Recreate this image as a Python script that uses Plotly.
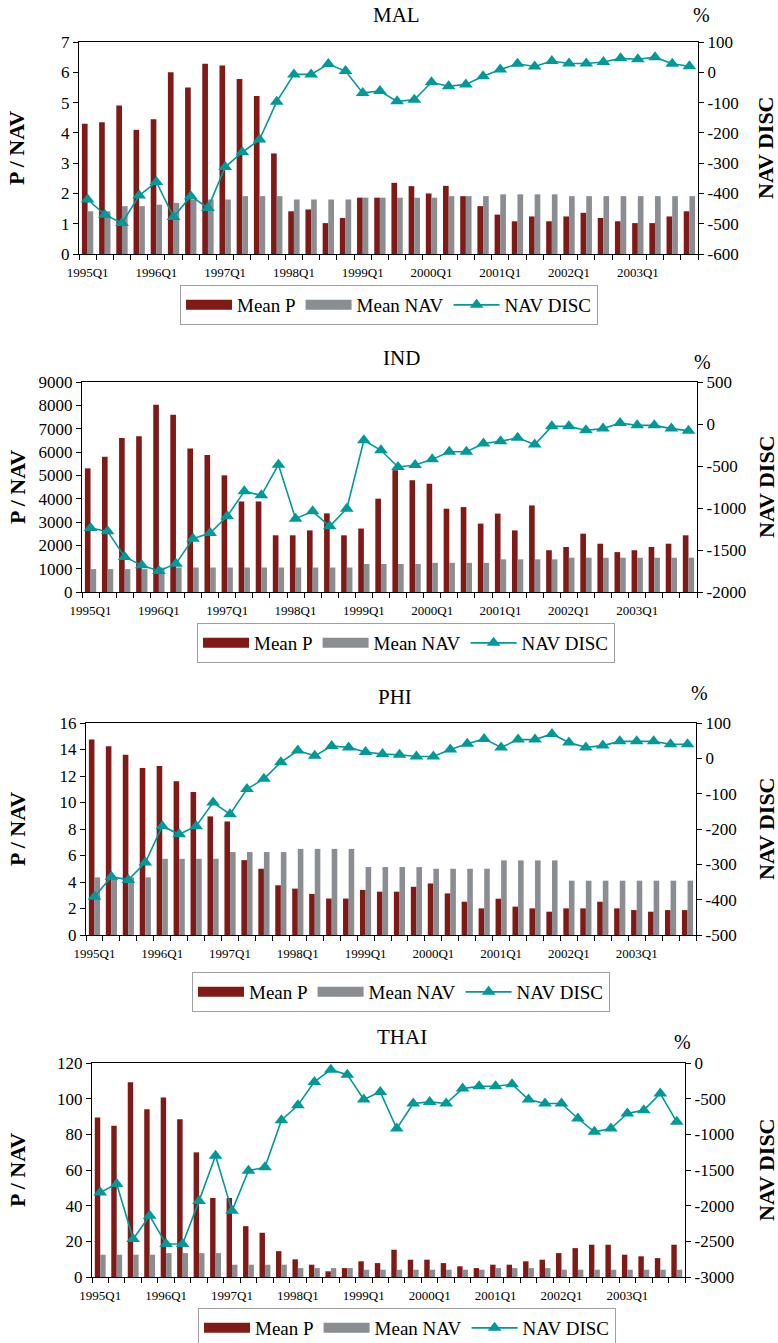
import plotly.graph_objects as go

quarters = [f"{y}Q{q}" for y in range(1995, 2004) for q in range(1, 5)]
tick_labels = ["1995Q1", "1996Q1", "1997Q1", "1998Q1", "1999Q1",
               "2000Q1", "2001Q1", "2002Q1", "2003Q1"]

mal_mean_p = [4.30, 4.35, 4.90, 4.10, 4.45, 6.00, 5.50, 6.28, 6.22, 5.78,
              5.22, 3.32, 1.41, 1.47, 1.02, 1.19, 1.86, 1.86, 2.35, 2.24,
              2.00, 2.25, 1.91, 1.58, 1.30, 1.08, 1.24, 1.08, 1.24, 1.36,
              1.19, 1.08, 1.02, 1.02, 1.24, 1.41]
mal_mean_nav = [1.41, 1.41, 1.58, 1.58, 1.63, 1.69, 1.80, 1.80, 1.80, 1.91,
                1.91, 1.91, 1.80, 1.80, 1.80, 1.80, 1.86, 1.86, 1.86, 1.86,
                1.86, 1.91, 1.91, 1.91, 1.97, 1.97, 1.97, 1.97, 1.91, 1.91,
                1.91, 1.91, 1.91, 1.91, 1.91, 1.91]
mal_nav_disc = [-420, -470, -498, -407, -362, -478, -409, -448, -313, -264,
                -222, -97, -7, -7, 27, 4, -68, -62, -96, -91,
                -33, -46, -40, -13, 9, 28, 19, 37, 29, 29,
                34, 46, 43, 50, 28, 20]

ind_mean_p = [5300, 5800, 6600, 6670, 8030, 7600, 6150, 5870, 5000, 3880,
              3880, 2430, 2430, 2640, 3370, 2430, 2720, 4000, 5220, 4790,
              4640, 3570, 3640, 2930, 3360, 2640, 3710, 1790, 1930, 2500,
              2070, 1710, 1790, 1930, 2070, 2430]
ind_mean_nav = [980, 980, 980, 980, 1050, 1050, 1050, 1050, 1050, 1050,
                1050, 1050, 1050, 1050, 1050, 1050, 1200, 1200, 1200, 1200,
                1250, 1250, 1250, 1250, 1400, 1400, 1400, 1400, 1470, 1470,
                1470, 1470, 1470, 1470, 1470, 1470]
ind_nav_disc = [-1238, -1278, -1583, -1683, -1750, -1663, -1365, -1298, -1099, -802,
                -849, -484, -1127, -1040, -1218, -1008, -194, -313, -512, -488,
                -421, -331, -331, -232, -205, -165, -244, -28, -28, -75,
                -55, 12, -16, -16, -55, -79]

phi_mean_p = [14.75, 14.25, 13.6, 12.6, 12.75, 11.6, 10.8, 8.95, 8.57, 5.65,
              5.0, 3.75, 3.5, 3.1, 2.75, 2.75, 3.4, 3.27, 3.27, 3.64,
              3.89, 3.14, 2.51, 2.01, 2.74, 2.14, 2.01, 1.76, 2.01, 2.01,
              2.51, 2.01, 1.88, 1.76, 1.88, 1.88]
phi_mean_nav = [4.35, 4.35, 4.35, 4.35, 5.75, 5.75, 5.75, 5.75, 6.26, 6.26,
                6.26, 6.26, 6.5, 6.5, 6.5, 6.5, 5.13, 5.13, 5.13, 5.13,
                5.0, 5.0, 5.0, 5.0, 5.63, 5.63, 5.63, 5.63, 4.1, 4.1,
                4.1, 4.1, 4.1, 4.1, 4.1, 4.1]
phi_nav_disc = [-392, -335, -344, -295, -192, -215, -192, -125, -158, -87,
                -58, -11, 22, 7, 35, 31, 18, 12, 10, 5,
                5, 25, 41, 55, 31, 53, 53, 69, 45, 31,
                36, 48, 48, 48, 40, 40]

thai_mean_p = [89.4, 84.8, 109.2, 94.1, 100.6, 88.5, 69.9, 44.3, 44.3, 28.5,
               24.8, 14.5, 9.9, 6.9, 3.2, 5.0, 8.8, 7.8, 15.3, 9.7,
               9.7, 7.8, 6.0, 5.0, 6.9, 6.9, 8.8, 9.7, 13.4, 16.2,
               18.1, 18.1, 12.5, 11.6, 10.6, 18.1]
thai_mean_nav = [12.5, 12.5, 12.5, 12.5, 13.4, 13.4, 13.4, 13.4, 6.9, 6.9,
                 6.9, 6.9, 5.0, 5.0, 5.0, 5.0, 4.1, 4.1, 4.1, 4.1,
                 4.1, 4.1, 4.1, 4.1, 5.0, 5.0, 5.0, 5.0, 4.1, 4.1,
                 4.1, 4.1, 4.1, 4.1, 4.1, 4.1]
thai_nav_disc = [-1816, -1695, -2468, -2142, -2538, -2538, -1933, -1300, -2073, -1509,
                 -1462, -801, -592, -265, -93, -163, -512, -405, -918, -568,
                 -545, -568, -359, -326, -326, -298, -512, -568, -568, -778,
                 -964, -918, -708, -661, -428, -824]

W, H = 778, 1343
RED = "#7f1a17"
GRAY = "#8a8d91"
TEAL = "#00999a"
FONT = "Liberation Serif"

panels = [
    dict(name="MAL", p=mal_mean_p, nav=mal_mean_nav, disc=mal_nav_disc,
         lrange=[0, 7], lticks=[0, 1, 2, 3, 4, 5, 6, 7],
         rrange=[-600, 100], rticks=[-600, -500, -400, -300, -200, -100, 0, 100],
         box=(79, 42, 698, 254), leg=(180, 285), title_x=396, title_y=15, pct=(701, 15)),
    dict(name="IND", p=ind_mean_p, nav=ind_mean_nav, disc=ind_nav_disc,
         lrange=[0, 9000], lticks=[0, 1000, 2000, 3000, 4000, 5000, 6000, 7000, 8000, 9000],
         rrange=[-2000, 500], rticks=[-2000, -1500, -1000, -500, 0, 500],
         box=(82, 382, 697, 592), leg=(197, 623), title_x=401, title_y=358, pct=(702, 362)),
    dict(name="PHI", p=phi_mean_p, nav=phi_mean_nav, disc=phi_nav_disc,
         lrange=[0, 16], lticks=[0, 2, 4, 6, 8, 10, 12, 14, 16],
         rrange=[-500, 100], rticks=[-500, -400, -300, -200, -100, 0, 100],
         box=(86, 723, 696, 935), leg=(192, 972), title_x=395, title_y=697, pct=(699, 693)),
    dict(name="THAI", p=thai_mean_p, nav=thai_mean_nav, disc=thai_nav_disc,
         lrange=[0, 120], lticks=[0, 20, 40, 60, 80, 100, 120],
         rrange=[-3000, 0], rticks=[-3000, -2500, -2000, -1500, -1000, -500, 0],
         box=(92, 1063, 685, 1277), leg=(198, 1308), title_x=402, title_y=1037, pct=(682, 1042)),
]

xpos = list(range(len(quarters)))
tickpos = [quarters.index(t) for t in tick_labels]
boundaries = [i - 0.5 for i in range(len(quarters) + 1)]

fig = go.Figure()
layout = dict(width=W, height=H, margin=dict(l=0, r=0, t=0, b=0, pad=0, autoexpand=False),
              paper_bgcolor="white", plot_bgcolor="white",
              barmode="group", bargap=0.34, bargroupgap=0.0,
              font=dict(family=FONT, color="black"), showlegend=True)
annotations = []

for k, pn in enumerate(panels, start=1):
    x0, y0, x1, y1 = pn["box"]
    xa = "x" if k == 1 else f"x{k}"
    yl = "y" if k == 1 else f"y{2*k-1}"
    yr = f"y{2*k}"
    lg = "legend" if k == 1 else f"legend{k}"
    xdom = [x0 / W, x1 / W]
    ydom = [1 - y1 / H, 1 - y0 / H]

    fig.add_trace(go.Bar(x=xpos, y=pn["p"], name="Mean P", marker_color=RED,
                         marker_line_width=0, xaxis=xa, yaxis=yl, legend=lg,
                         showlegend=False))
    fig.add_trace(go.Bar(x=xpos, y=pn["nav"], name="Mean NAV", marker_color=GRAY,
                         marker_line_width=0, xaxis=xa, yaxis=yl, legend=lg,
                         showlegend=False))
    # legend swatches (wide rectangles like the source)
    fig.add_trace(go.Scatter(x=[None], y=[None], mode="lines", name="Mean P",
                             line=dict(color=RED, width=10), xaxis=xa, yaxis=yl,
                             legend=lg, hoverinfo="skip"))
    fig.add_trace(go.Scatter(x=[None], y=[None], mode="lines", name="Mean NAV",
                             line=dict(color=GRAY, width=10), xaxis=xa, yaxis=yl,
                             legend=lg, hoverinfo="skip"))
    fig.add_trace(go.Scatter(x=xpos, y=pn["disc"], name="NAV DISC", mode="lines+markers",
                             line=dict(color=TEAL, width=1.6),
                             marker=dict(symbol="triangle-up", size=12, color=TEAL),
                             xaxis=xa, yaxis=yr, legend=lg))

    xkey = "xaxis" if k == 1 else f"xaxis{k}"
    ylkey = "yaxis" if k == 1 else f"yaxis{2*k-1}"
    yrkey = f"yaxis{2*k}"
    layout[xkey] = dict(domain=xdom, anchor=yl, range=[-0.5, len(quarters) - 0.5],
                        tickmode="array", tickvals=tickpos, ticktext=tick_labels,
                        ticks="outside", ticklen=6, tickcolor="rgba(0,0,0,0)",
                        tickfont=dict(family=FONT, size=13),
                        showline=True, linecolor="black", linewidth=1.3, mirror=True,
                        showgrid=False, zeroline=False,
                        minor=dict(tickmode="array", tickvals=boundaries, ticks="outside",
                                   ticklen=5, tickwidth=1, tickcolor="black", showgrid=False))
    layout[ylkey] = dict(domain=ydom, anchor=xa, range=pn["lrange"],
                         tickmode="array", tickvals=pn["lticks"],
                         ticktext=[str(v) for v in pn["lticks"]],
                         ticks="outside", ticklen=5, tickcolor="black",
                         tickfont=dict(family=FONT, size=17),
                         showline=True, linecolor="black", linewidth=1.3,
                         showgrid=False, zeroline=False)
    layout[yrkey] = dict(overlaying=yl, side="right", anchor=xa, range=pn["rrange"],
                         tickmode="array", tickvals=pn["rticks"],
                         ticktext=[str(v) for v in pn["rticks"]],
                         ticks="outside", ticklen=5, tickcolor="black",
                         tickfont=dict(family=FONT, size=17),
                         showline=True, linecolor="black", linewidth=1.3,
                         showgrid=False, zeroline=False)
    lx, ly = pn["leg"]
    layout[lg] = dict(x=lx / W, y=1 - ly / H, xanchor="left", yanchor="top",
                      orientation="h", bordercolor="#a0a0a0", borderwidth=1,
                      bgcolor="white", itemwidth=46, itemclick=False,
                      font=dict(family=FONT, size=19, color="black"))

    cy = 1 - (y0 + y1) / 2 / H
    annotations.append(dict(text=pn["name"], x=pn["title_x"] / W, y=1 - pn["title_y"] / H,
                            xref="paper", yref="paper", showarrow=False,
                            xanchor="center", yanchor="middle",
                            font=dict(family=FONT, size=21)))
    annotations.append(dict(text="%", x=pn["pct"][0] / W, y=1 - pn["pct"][1] / H,
                            xref="paper", yref="paper", showarrow=False,
                            xanchor="center", yanchor="middle",
                            font=dict(family=FONT, size=20)))
    annotations.append(dict(text="<b>P / NAV</b>", x=17 / W, y=cy, xref="paper", yref="paper",
                            showarrow=False, textangle=-90, xanchor="center", yanchor="middle",
                            font=dict(family=FONT, size=22)))
    annotations.append(dict(text="<b>NAV DISC</b>", x=766 / W, y=cy, xref="paper", yref="paper",
                            showarrow=False, textangle=-90, xanchor="center", yanchor="middle",
                            font=dict(family=FONT, size=22)))

layout["annotations"] = annotations
fig.update_layout(**layout)
fig.write_html("out.html", config={"displayModeBar": False},
               post_script="document.body.style.margin='0';document.body.style.overflow='hidden';")
